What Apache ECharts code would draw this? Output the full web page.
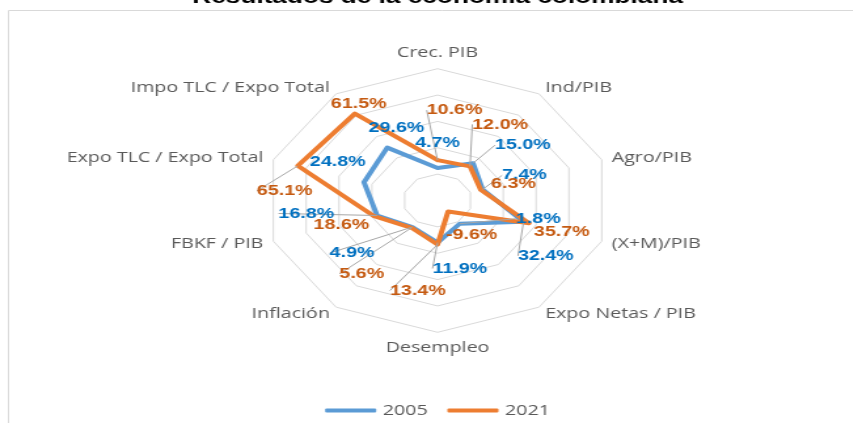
<!DOCTYPE html>
<html>
<head>
<meta charset="utf-8">
<script src="https://cdn.jsdelivr.net/npm/echarts@6/dist/echarts.min.js"></script>
<style>
  html, body { margin: 0; padding: 0; overflow: hidden; background: #fff; }
  /* the reference picture is stretched sideways, so the chart is drawn narrow and widened */
  #main { width: 668px; height: 427px; transform: scaleX(1.31); transform-origin: 0 0; }
</style>
</head>
<body>
<div id="main"></div>
<script>
const indicators = ['Crec. PIB', 'Ind/PIB', 'Agro/PIB', '(X+M)/PIB', 'Expo Netas / PIB', 'Desempleo',
  'Inflación', 'FBKF / PIB', 'Expo TLC / Expo Total', 'Impo TLC / Expo Total'];
const years = ['2005', '2021'];
const values2005 = [4.7, 15.0, 7.4, 32.4, 1.8, 11.9, 4.9, 16.8, 24.8, 29.6];
const values2021 = [10.6, 12.0, 6.3, 35.7, -9.6, 13.4, 5.6, 18.6, 65.1, 61.5];
const axisMin = -20, axisMax = 80;

// where each data label sits relative to its point, and which ones get a leader line
const offsets2005 = [[0, -25], [38, -18], [32, -14], [17, 34], [60, -5], [17, 26], [-46, 26], [-54, -2], [-20, -20], [7, -20]];
const leaders2005 = [0, 1, 1, 1, 1, 1, 1, 1, 0, 0];
const offsets2021 = [[13, -50], [23, -42], [25, -6], [25, 9], [18, 23], [-15, 46], [-38, 46], [-25, 9], [-10, 25], [3, -10]];
const leaders2021 = [1, 1, 0, 0, 0, 1, 1, 0, 1, 0];

const blue = '#5b9bd5', orange = '#ed7d31';
const center = [334, 200.5], radius = 131.8;

let myChart = echarts.init(document.getElementById('main'));

// radar goes counter-clockwise, the picture clockwise
const order = indicators.map((_, i) => (indicators.length - i) % indicators.length);

function labelSeries(name, values, offsets, leaders, color) {
  return {
    type: 'scatter',
    name: name + ' labels',
    coordinateSystem: 'polar',
    symbolSize: 0,
    silent: true,
    z: 5,
    itemStyle: { color: color, opacity: 1 },
    data: values.map((v, i) => ({ value: [v, i], labelLine: { show: !!leaders[i] } })),
    label: {
      show: true,
      position: 'inside',
      color: color,
      textBorderWidth: 0,
      fontFamily: 'Liberation Sans',
      fontWeight: 'bold',
      fontSize: 15,
      formatter: p => p.value[0].toFixed(1) + '%'
    },
    labelLine: { show: true, lineStyle: { color: '#a6a6a6', width: 1, opacity: 1 } },
    labelLayout: p => ({ dx: offsets[p.dataIndex][0], dy: offsets[p.dataIndex][1] })
  };
}

let option = {
  animation: false,
  title: {
    text: 'Resultados de la economía colombiana',
    left: 'center',
    top: -18,
    textStyle: { fontFamily: 'Liberation Sans', fontWeight: 'bold', fontSize: 20, color: '#000' }
  },
  legend: {
    data: years,
    left: 'center',
    top: 398,
    icon: 'roundRect',
    itemWidth: 39,
    itemHeight: 4,
    itemGap: 15,
    textStyle: { fontFamily: 'Open Sans', fontSize: 15, color: '#595959' }
  },
  graphic: [{
    type: 'polyline',
    silent: true,
    z: -1,
    shape: { points: [[6.5, 423], [6.5, 10.5], [1000, 10.5]] },
    style: { fill: 'none', stroke: '#d9d9d9', lineWidth: 1 }
  }],
  radar: {
    center: center,
    radius: radius,
    shape: 'polygon',
    splitNumber: 5,
    startAngle: 90,
    indicator: order.map(i => ({ name: indicators[i], min: axisMin, max: axisMax })),
    axisName: { color: '#595959', fontFamily: 'Open Sans', fontSize: 15 },
    nameGap: 8,
    axisLine: { show: false },
    axisTick: { show: false },
    splitArea: { show: false },
    splitLine: { lineStyle: { color: '#d9d9d9', width: 1 } }
  },
  polar: { center: center, radius: radius },
  angleAxis: { type: 'value', min: 0, max: indicators.length, startAngle: 90, clockwise: true, show: false },
  radiusAxis: { type: 'value', min: axisMin, max: axisMax, show: false },
  series: [
    {
      type: 'radar',
      symbol: 'none',
      silent: true,
      data: [
        {
          name: years[0],
          value: order.map(i => values2005[i]),
          itemStyle: { color: blue },
          lineStyle: { color: blue, width: 4, join: 'round', cap: 'round' }
        },
        {
          name: years[1],
          value: order.map(i => values2021[i]),
          itemStyle: { color: orange },
          lineStyle: { color: orange, width: 4, join: 'round', cap: 'round' }
        }
      ]
    },
    labelSeries(years[0], values2005, offsets2005, leaders2005, '#0070c0'),
    labelSeries(years[1], values2021, offsets2021, leaders2021, '#c55a11')
  ]
};

myChart.setOption(option);
</script>
</body>
</html>
